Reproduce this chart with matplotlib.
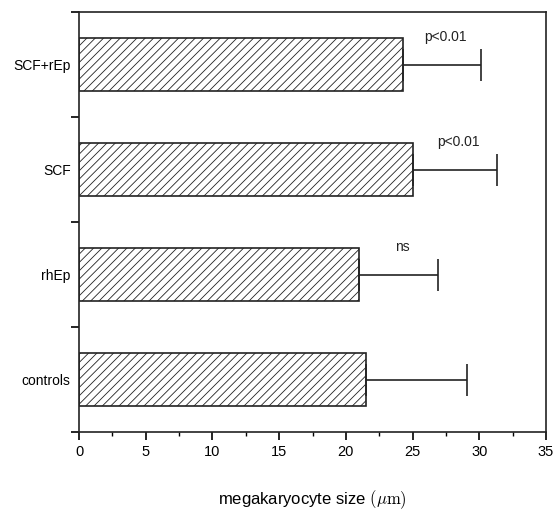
import matplotlib
matplotlib.use("Agg")
from matplotlib import pyplot as plt
from matplotlib.ticker import MultipleLocator, FixedLocator

groups = ["controls", "rhEp", "SCF", "SCF+rEp"]
means = [21.5, 21.0, 25.0, 24.3]
errors = [7.6, 5.9, 6.3, 5.8]
notes = ["", "ns", "p<0.01", "p<0.01"]

plt.rcParams["hatch.color"] = "#a8a8a8"
plt.rcParams["hatch.linewidth"] = 0.6
plt.rcParams["mathtext.fontset"] = "cm"
plt.rcParams["font.family"] = ["Liberation Sans", "DejaVu Sans"]

fig = plt.figure(figsize=(5.58, 5.12), dpi=100)
ax = fig.add_axes([0.1416, 0.156, 0.8369, 0.8204])

pos = range(len(groups))
ax.barh(pos, means, height=0.5, color="white", edgecolor="#222222",
        linewidth=1.2, hatch="////", zorder=2)
ax.errorbar(means, pos, xerr=[[0] * len(errors), errors], fmt="none",
            ecolor="#222222", elinewidth=1.2, capsize=11.5, capthick=1.2,
            zorder=3)

for i, (m, e, n) in enumerate(zip(means, errors, notes)):
    if n:
        ax.text(m + e * 0.55, i + 0.2, n, fontsize=10, ha="center",
                va="bottom", color="#222222")

ax.set_xlim(0, 35)
ax.set_ylim(-0.5, 3.5)
ax.xaxis.set_major_locator(MultipleLocator(5))
ax.xaxis.set_minor_locator(MultipleLocator(2.5))
ax.set_yticks(list(pos))
ax.set_yticklabels(groups)
ax.yaxis.set_minor_locator(FixedLocator([-0.5, 0.5, 1.5, 2.5, 3.5]))
ax.tick_params(axis="y", which="major", length=0, pad=6, labelsize=10)
ax.tick_params(axis="y", which="minor", length=6, width=1.2)
ax.tick_params(axis="x", which="major", length=6, width=1.2, labelsize=10.5)
ax.tick_params(axis="x", which="minor", length=3, width=1.0)
for s in ax.spines.values():
    s.set_linewidth(1.2)
    s.set_color("#222222")

ax.set_xlabel(r"megakaryocyte size $(\mu\mathrm{m})$", fontsize=12, va="center")
ax.xaxis.set_label_coords(0.5, -0.16)

fig.savefig("out.png", dpi=100)
